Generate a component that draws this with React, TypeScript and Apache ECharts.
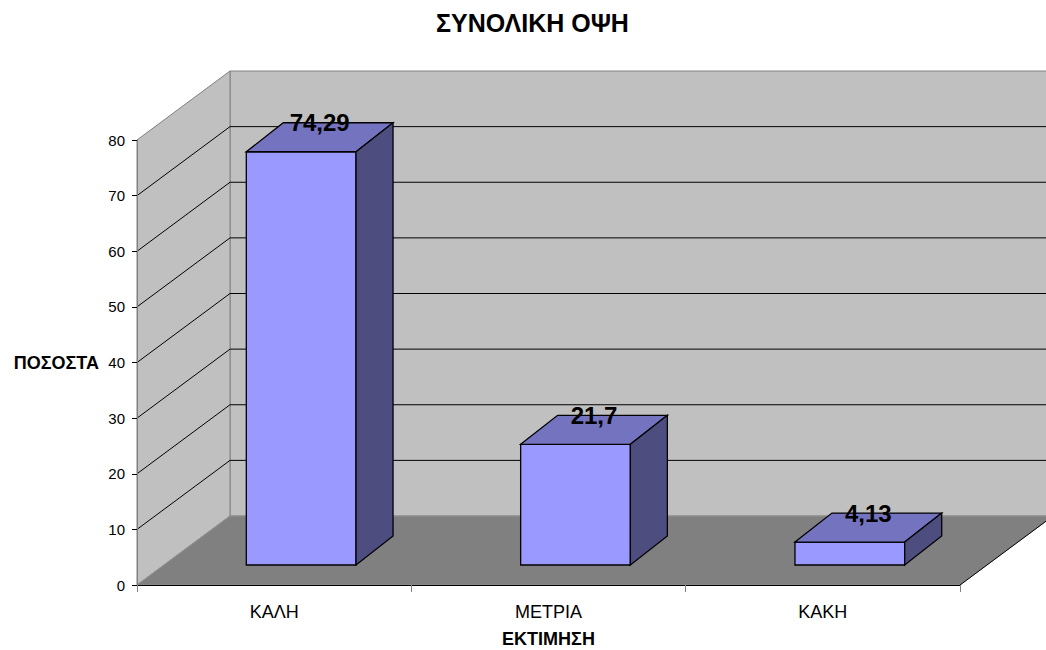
import React, { useEffect, useRef } from "react";
import * as echarts from "echarts";

const TITLE = "ΣΥΝΟΛΙΚΗ ΟΨΗ";
const X_NAME = "ΕΚΤΙΜΗΣΗ";
const Y_NAME = "ΠΟΣΟΣΤΑ";
const CATEGORIES = ["ΚΑΛΗ", "ΜΕΤΡΙΑ", "ΚΑΚΗ"];
const VALUES = [74.29, 21.7, 4.13];
const Y_MIN = 0;
const Y_MAX = 80;
const Y_STEP = 10;
const Y_TICKS = [0, 10, 20, 30, 40, 50, 60, 70, 80];

const FONT = "'Liberation Sans', Arial, sans-serif";

// 3D projection offsets (pixels)
const WALL_DX = 93;
const WALL_DY = -69;
const BAR_OFF_DX = 27;
const BAR_OFF_DY = -20;
const BAR_DEPTH_DX = 37;
const BAR_DEPTH_DY = -29;
const BAR_WIDTH_RATIO = 0.4;

const fmt = (v: number) => String(v).replace(".", ",");

export default function App() {
  const ref = useRef<HTMLDivElement>(null);

  useEffect(() => {
    if (!ref.current) return;
    const chart = echarts.init(ref.current, undefined, { renderer: "svg" });

    const wallsRender = (params: any, api: any) => {
      const cs = params.coordSys;
      const x0 = cs.x;
      const x1 = cs.x + cs.width;
      const yv = (v: number) => api.coord([0, v])[1];
      const y0 = yv(Y_TICKS[0]);
      const yT = yv(Y_TICKS[Y_TICKS.length - 1]);
      const children: any[] = [];
      children.push({
        type: "polygon",
        shape: {
          points: [
            [x0 + WALL_DX, yT + WALL_DY],
            [x1 + WALL_DX, yT + WALL_DY],
            [x1 + WALL_DX, y0 + WALL_DY],
            [x0 + WALL_DX, y0 + WALL_DY],
          ],
        },
        style: { fill: "#c0c0c0", stroke: "#808080", lineWidth: 1 },
      });
      children.push({
        type: "polygon",
        shape: {
          points: [
            [x0, yT],
            [x0 + WALL_DX, yT + WALL_DY],
            [x0 + WALL_DX, y0 + WALL_DY],
            [x0, y0],
          ],
        },
        style: { fill: "#c0c0c0", stroke: "#808080", lineWidth: 1 },
      });
      children.push({
        type: "polygon",
        shape: {
          points: [
            [x0, y0],
            [x0 + WALL_DX, y0 + WALL_DY],
            [x1 + WALL_DX, y0 + WALL_DY],
            [x1, y0],
          ],
        },
        style: { fill: "#808080", stroke: "#909090", lineWidth: 1 },
      });
      children.push({
        type: "line",
        shape: { x1: x1, y1: y0, x2: x1 + WALL_DX, y2: y0 + WALL_DY },
        style: { stroke: "#000000", lineWidth: 1 },
      });
      Y_TICKS.slice(1, -1).forEach((v) => {
        const y = yv(v);
        children.push({
          type: "polyline",
          shape: {
            points: [
              [x0, y],
              [x0 + WALL_DX, y + WALL_DY],
              [x1 + WALL_DX, y + WALL_DY],
            ],
          },
          style: { stroke: "#000000", lineWidth: 1, fill: "none" },
        });
      });
      return { type: "group", children };
    };

    const barsRender = (params: any, api: any) => {
      const idx = api.value(0);
      const val = api.value(1);
      const base = api.coord([idx, 0]);
      const top = api.coord([idx, val]);
      const cw = api.size([1, 0])[0];
      const w = cw * BAR_WIDTH_RATIO;
      const cx = base[0] + BAR_OFF_DX;
      const xl = cx - w / 2;
      const xr = cx + w / 2;
      const yb = base[1] + BAR_OFF_DY;
      const yt = top[1] + BAR_OFF_DY;
      const stroke = { stroke: "#000000", lineWidth: 1.3 };
      return {
        type: "group",
        children: [
          {
            type: "polygon",
            shape: { points: [[xl, yt], [xr, yt], [xr, yb], [xl, yb]] },
            style: { fill: "#9999ff", ...stroke },
          },
          {
            type: "polygon",
            shape: {
              points: [
                [xl, yt],
                [xl + BAR_DEPTH_DX, yt + BAR_DEPTH_DY],
                [xr + BAR_DEPTH_DX, yt + BAR_DEPTH_DY],
                [xr, yt],
              ],
            },
            style: { fill: "#7373bf", ...stroke },
          },
          {
            type: "polygon",
            shape: {
              points: [
                [xr, yt],
                [xr + BAR_DEPTH_DX, yt + BAR_DEPTH_DY],
                [xr + BAR_DEPTH_DX, yb + BAR_DEPTH_DY],
                [xr, yb],
              ],
            },
            style: { fill: "#4d4d80", ...stroke },
          },
          {
            type: "text",
            x: cx + BAR_DEPTH_DX / 2,
            y: yt + BAR_DEPTH_DY,
            style: {
              text: fmt(val),
              fill: "#000000",
              fontSize: 24,
              fontWeight: "bold",
              fontFamily: FONT,
              align: "center",
              verticalAlign: "middle",
            },
          },
        ],
      };
    };

    chart.setOption({
      animation: false,
      backgroundColor: "#ffffff",
      title: {
        text: TITLE,
        left: 436,
        top: 10,
        padding: 0,
        textStyle: { fontSize: 25, fontWeight: "bold", fontFamily: FONT, color: "#000" },
      },
      grid: {
        left: 137,
        top: 140,
        width: 823,
        height: 445,
        containLabel: false,
        outerBoundsMode: "none",
      },
      xAxis: {
        type: "category",
        data: CATEGORIES,
        boundaryGap: true,
        z: 10,
        axisLine: { show: true, lineStyle: { color: "#000000", width: 1 } },
        axisTick: { show: true, length: 7, lineStyle: { color: "#808080" } },
        axisLabel: { fontSize: 18, color: "#000", margin: 18, fontFamily: FONT },
        splitLine: { show: false },
        name: X_NAME,
        nameLocation: "middle",
        nameGap: 45,
        nameTextStyle: { fontSize: 18, fontWeight: "bold", color: "#000", fontFamily: FONT },
      },
      yAxis: {
        type: "value",
        min: Y_MIN,
        max: Y_MAX,
        interval: Y_STEP,
        z: 10,
        axisLine: { show: true, lineStyle: { color: "#808080", width: 1 } },
        axisTick: { show: true, length: 5, lineStyle: { color: "#000000" } },
        axisLabel: { fontSize: 15, color: "#000", margin: 12, fontFamily: FONT },
        splitLine: { show: false },
        name: Y_NAME,
        nameLocation: "middle",
        nameRotate: 0,
        nameGap: 38,
        nameTextStyle: { fontSize: 18, fontWeight: "bold", color: "#000", fontFamily: FONT, padding: [6, 0, 0, 0] },
      },
      series: [
        {
          type: "custom",
          name: "walls",
          clip: false,
          z: 1,
          silent: true,
          data: [[0, Y_MIN]],
          encode: { x: 0, y: 1 },
          renderItem: wallsRender,
        },
        {
          type: "custom",
          name: "bars",
          clip: false,
          z: 3,
          data: CATEGORIES.map((c, i) => [i, VALUES[i]]),
          encode: { x: 0, y: 1 },
          renderItem: barsRender,
        },
      ],
    });

    return () => chart.dispose();
  }, []);

  return (
    <div
      ref={ref}
      style={{ position: "fixed", left: 0, top: 0, width: 1046, height: 650 }}
    />
  );
}
